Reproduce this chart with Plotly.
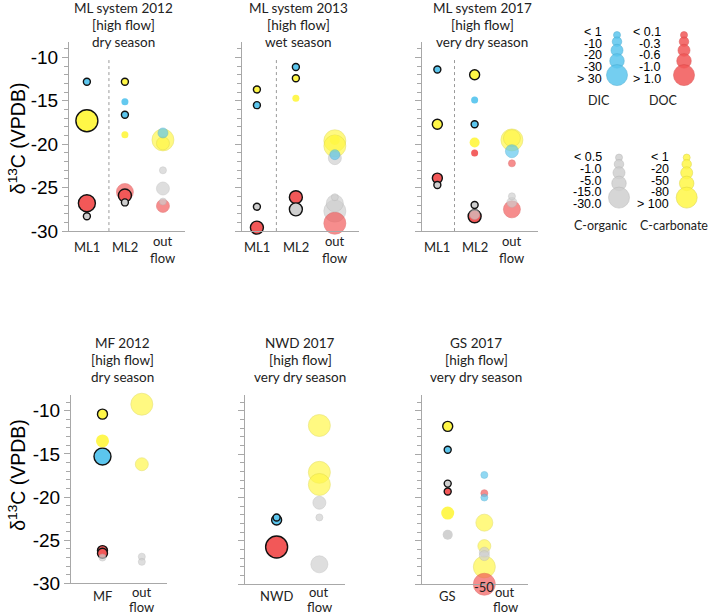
import plotly.graph_objects as go

W, H = 710, 614          # reference canvas (all pixel positions below are in this space)
H_PAGE = 626             # figure height; the photographed page is scaled back to 614

# ---------------- data ----------------
Y_TICKS = [-30, -25, -20, -15, -10]
Y_TICK_TEXT = ["-30", "-25", "-20", "-15", "-10"]

TOP_SITES = ["ML1", "ML2", "out<br>flow"]
P1_TITLE = ["ML system 2012", "[high flow]", "dry season"]
P2_TITLE = ["ML system 2013", "[high flow]", "wet season"]
P3_TITLE = ["ML system 2017", "[high flow]", "very dry season"]
P4_SITES = ["MF", "out<br>flow"]
P5_SITES = ["NWD", "out<br>flow"]
P6_SITES = ["GS", "out<br>flow"]
P4_TITLE = ["MF 2012", "[high flow]", "dry season"]
P5_TITLE = ["NWD 2017", "[high flow]", "very dry season"]
P6_TITLE = ["GS 2017", "[high flow]", "very dry season"]

# site index, carbon pool, d13C, concentration class (1-5), sample type (1 outlined, 0 plain, 2 translucent)
P1_SITE = [0, 0, 0, 0, 1, 1, 1, 1, 1, 1, 1, 2, 2, 2, 2, 2, 2, 2]
P1_KIND = ["DIC", "Ccarb", "DOC", "Corg", "Ccarb", "DIC", "DIC", "Ccarb", "DOC", "DOC", "Corg",
           "Ccarb", "Ccarb", "DIC", "Corg", "Corg", "Corg", "DOC"]
P1_D13C = [-12.8, -17.3, -26.8, -28.3, -12.8, -15.1, -16.6, -18.9, -25.5, -25.9, -26.7,
           -19.5, -19.9, -18.7, -23.0, -25.1, -26.6, -27.1]
P1_CLASS = [1, 5, 4, 1, 1, 1, 1, 1, 4, 3, 1, 5, 3, 2, 1, 3, 1, 3]
P1_TYPE = [1, 1, 1, 1, 1, 0, 1, 0, 2, 1, 1, 2, 2, 2, 2, 2, 2, 2]

P2_SITE = [0, 0, 0, 0, 1, 1, 1, 1, 1, 2, 2, 2, 2, 2, 2, 2, 2, 2]
P2_KIND = ["Ccarb", "DIC", "Corg", "DOC", "DIC", "Ccarb", "Ccarb", "DOC", "Corg",
           "Ccarb", "Ccarb", "Ccarb", "Corg", "DIC", "Corg", "Corg", "Corg", "DOC"]
P2_D13C = [-13.7, -15.5, -27.2, -29.6, -11.1, -12.4, -14.7, -26.1, -27.5,
           -19.6, -20.2, -19.5, -21.6, -21.2, -26.1, -26.8, -27.7, -29.1]
P2_CLASS = [1, 1, 1, 3, 1, 1, 1, 3, 3, 5, 5, 2, 3, 2, 1, 4, 5, 5]
P2_TYPE = [1, 1, 1, 1, 1, 1, 0, 1, 1, 2, 2, 0, 2, 2, 2, 2, 2, 2]

P3_SITE = [0, 0, 0, 0, 1, 1, 1, 1, 1, 1, 1, 1, 2, 2, 2, 2, 2, 2, 2]
P3_KIND = ["DIC", "Ccarb", "DOC", "Corg", "Ccarb", "DIC", "DIC", "Ccarb", "DOC", "Corg", "DOC", "Corg",
           "Ccarb", "Ccarb", "DIC", "DOC", "Corg", "Corg", "DOC"]
P3_D13C = [-11.4, -17.7, -23.9, -24.7, -12.0, -14.9, -17.7, -19.8, -21.0, -27.0, -28.3, -28.1,
           -19.5, -19.3, -20.8, -22.2, -26.0, -26.7, -27.5]
P3_CLASS = [1, 2, 2, 1, 2, 1, 1, 2, 1, 1, 3, 2, 5, 4, 3, 1, 1, 2, 4]
P3_TYPE = [1, 1, 1, 1, 1, 0, 1, 0, 0, 1, 1, 2, 2, 2, 2, 2, 2, 2, 2]

P4_SITE = [0, 0, 0, 0, 0, 0, 1, 1, 1, 1]
P4_KIND = ["Ccarb", "Ccarb", "DIC", "DOC", "DOC", "Corg", "Ccarb", "Ccarb", "Corg", "Corg"]
P4_D13C = [-10.4, -13.5, -15.3, -26.2, -26.5, -27.0, -9.25, -16.2, -26.9, -27.5]
P4_CLASS = [2, 3, 4, 2, 2, 1, 5, 3, 1, 1]
P4_TYPE = [1, 0, 1, 1, 1, 2, 2, 2, 2, 2]

P5_SITE = [0, 0, 0, 1, 1, 1, 1, 1, 1]
P5_KIND = ["DIC", "DIC", "DOC", "Ccarb", "Ccarb", "Ccarb", "Corg", "Corg", "Corg"]
P5_D13C = [-22.6, -22.3, -25.7, -11.7, -17.1, -18.5, -20.6, -22.3, -27.7]
P5_CLASS = [2, 1, 5, 5, 5, 5, 3, 1, 4]
P5_TYPE = [1, 1, 1, 2, 2, 2, 2, 2, 2]

P6_SITE = [0, 0, 0, 0, 0, 0, 1, 1, 1, 1, 1, 1, 1, 1, 1]
P6_KIND = ["Ccarb", "DIC", "Corg", "DOC", "Ccarb", "Corg",
           "DIC", "DOC", "DIC", "Ccarb", "Ccarb", "Corg", "Corg", "Ccarb", "DOC"]
P6_D13C = [-11.8, -14.5, -18.4, -19.3, -21.8, -24.3,
           -17.4, -19.5, -20.0, -22.9, -25.6, -26.3, -26.7, -28.0, -30.0]
P6_CLASS = [2, 1, 1, 1, 3, 2, 1, 1, 1, 4, 3, 2, 2, 5, 5]
P6_TYPE = [1, 1, 1, 1, 0, 0, 2, 2, 2, 2, 2, 2, 2, 2, 2]
P6_OFFSCALE_VALUE = "-50"   # true value of the DOC outflow point drawn at the axis floor
P6_OFFSCALE_INDEX = 14

LEG_DIC = ["< 1", "-10", "-20", "-30", "> 30"]
LEG_DOC = ["< 0.1", "-0.3", "-0.6", "-1.0", "> 1.0"]
LEG_CORG = ["< 0.5", "-1.0", "-5.0", "-15.0", "-30.0"]
LEG_CCARB = ["< 1", "-20", "-50", "-80", "> 100"]
LEG_NAMES = ["DIC", "DOC", "C-organic", "C-carbonate"]

# ---------------- styles ----------------
COL = {"DIC": "#5CC6EE", "DOC": "#F25858", "Corg": "#CFCFCF", "Ccarb": "#FFF747"}
EDGE = {"DIC": "#45a9d0", "DOC": "#d94545", "Corg": "#b5b5b5", "Ccarb": "#dcd43a"}
SIZE_PX = {1: 7, 2: 10, 3: 13, 4: 17, 5: 22}
LEG_SIZE = [7, 9.5, 12, 14.5, 21]
AX_COL = "#a8a8a8"
TXT_FONT = "Lato"
NUM_FONT = "Liberation Sans"

fig = go.Figure()


def fx(p):
    return p / W


def fy(p):
    return 1 - p / H


# panel boxes in pixels: (left, right, top, bottom), x range, separator
PANELS = [
    (69, 185, 41.7, 230.7, [-0.47, 2.58], 0.58),
    (241.7, 359, 41.7, 230.7, [-0.39, 2.62], 0.5),
    (421.7, 538, 41.7, 230.7, [-0.42, 2.7], 0.46),
    (71, 167, 394.5, 582.5, [-0.8, 1.64], None),
    (245, 345, 394.5, 583.3, [-0.74, 1.6], None),
    (421.7, 528.3, 394.5, 583.3, [-0.71, 2.2], None),
]

DATA = [
    (P1_SITE, P1_KIND, P1_D13C, P1_CLASS, P1_TYPE),
    (P2_SITE, P2_KIND, P2_D13C, P2_CLASS, P2_TYPE),
    (P3_SITE, P3_KIND, P3_D13C, P3_CLASS, P3_TYPE),
    (P4_SITE, P4_KIND, P4_D13C, P4_CLASS, P4_TYPE),
    (P5_SITE, P5_KIND, P5_D13C, P5_CLASS, P5_TYPE),
    (P6_SITE, P6_KIND, P6_D13C, P6_CLASS, P6_TYPE),
]

layout = dict(width=W, height=H_PAGE, autosize=False, margin=dict(l=0, r=0, t=0, b=0, pad=0),
              paper_bgcolor="white", plot_bgcolor="rgba(0,0,0,0)", showlegend=False)
annotations = []
shapes = []

for i, ((l, r, t, b, xr, sep), (site, kind, val, cls, typ)) in enumerate(zip(PANELS, DATA), start=1):
    sfx = "" if i == 1 else str(i)
    xa, ya = "x" + sfx, "y" + sfx
    layout["xaxis" + sfx] = dict(domain=[fx(l), fx(r)], range=xr, anchor=ya, showline=True,
                                 linecolor=AX_COL, linewidth=1, ticks="", showticklabels=False,
                                 showgrid=False, zeroline=False, fixedrange=True)
    layout["yaxis" + sfx] = dict(domain=[fy(b), fy(t)], range=[-30, -8.2], anchor=xa, showline=True,
                                 linecolor=AX_COL, linewidth=1, ticks="outside", ticklen=6,
                                 tickcolor=AX_COL, tickvals=Y_TICKS, ticktext=Y_TICK_TEXT,
                                 showticklabels=(i in (1, 4)),
                                 tickfont=dict(family=NUM_FONT, size=19, color="black"),
                                 minor=dict(dtick=1, tick0=-30, ticks="outside", ticklen=4,
                                            tickcolor=AX_COL),
                                 showgrid=False, zeroline=False, fixedrange=True)
    order = sorted(range(len(val)), key=lambda k: -cls[k])
    fig.add_trace(go.Scatter(
        x=[site[k] for k in order], y=[val[k] for k in order], mode="markers",
        xaxis=xa, yaxis=ya, cliponaxis=False, hoverinfo="skip",
        marker=dict(
            size=[SIZE_PX[cls[k]] for k in order],
            color=[COL[kind[k]] for k in order],
            opacity=[1.0 if typ[k] == 1 else (0.95 if typ[k] == 0 else 0.68) for k in order],
            line=dict(color=["#111111" if typ[k] == 1 else EDGE[kind[k]] for k in order],
                      width=[1.4 if typ[k] == 1 else (0 if typ[k] == 0 else 0.6) for k in order]),
        )))
    if sep is not None:
        shapes.append(dict(type="line", xref=xa, yref=ya, x0=sep, x1=sep, y0=-30, y1=-10,
                           line=dict(color="#9a9a9a", width=1, dash="dot")))

# category labels (one annotation per text line)
LBL = dict(family=TXT_FONT, size=13, color="#222")
CAT_Y_TOP = (246.7, 240.7, 257.3)
CAT_Y_BOT = (595, 590.7, 606.5)
for i in (1, 2, 3, 4, 5, 6):
    sfx = "" if i == 1 else str(i)
    sites = TOP_SITES if i <= 3 else (P4_SITES, P5_SITES, P6_SITES)[i - 4]
    ys = CAT_Y_TOP if i <= 3 else CAT_Y_BOT
    for k, s in enumerate(sites):
        parts = s.split("<br>")
        shift = 21 if (i == 6 and k == len(sites) - 1) else 0
        yy = [ys[0]] if len(parts) == 1 else [ys[1], ys[2]]
        for part, y0 in zip(parts, yy):
            annotations.append(dict(text=part, xref="x" + sfx, x=k, yref="paper", y=fy(y0),
                                    xshift=shift, yanchor="middle", xanchor="center",
                                    showarrow=False, font=LBL))

# off-scale value label
annotations.append(dict(text=P6_OFFSCALE_VALUE, xref="x6", yref="y6",
                        x=P6_SITE[P6_OFFSCALE_INDEX], y=P6_D13C[P6_OFFSCALE_INDEX],
                        yshift=-3, showarrow=False, xanchor="center", yanchor="middle",
                        font=LBL))

# titles (one annotation per line)
TITLE_POS = [(123.3, 8), (298.3, 8), (482, 8), (122.7, 342), (300, 342), (476, 342)]
for (cx, cy), tt in zip(TITLE_POS, (P1_TITLE, P2_TITLE, P3_TITLE, P4_TITLE, P5_TITLE, P6_TITLE)):
    for k, line in enumerate(tt):
        annotations.append(dict(text=line, xref="paper", yref="paper", x=fx(cx), y=fy(cy + 17.2 * k),
                                xanchor="center", yanchor="middle", showarrow=False,
                                font=dict(family=TXT_FONT, size=13.5, color="#222")))

# y axis titles
for cy in (138, 474):
    annotations.append(dict(text="δ<sup>13</sup>C (VPDB)", xref="paper", yref="paper",
                            x=fx(17), y=fy(cy), textangle=-90, showarrow=False,
                            xanchor="center", yanchor="middle",
                            font=dict(family=NUM_FONT, size=19.5, color="black")))

# ---------------- size legend ----------------
layout["xaxis7"] = dict(domain=[0, 1], range=[0, W], visible=False, fixedrange=True, anchor="y7")
layout["yaxis7"] = dict(domain=[0, 1], range=[H, 0], visible=False, fixedrange=True, anchor="x7")

LEG_GROUPS = [
    # labels, colour key, label right edge, bubble x, first label y, first bubble y, name x, name y
    (LEG_DIC, "DIC", 604, 617, 31.7, 35, 599, 100),
    (LEG_DOC, "DOC", 662.5, 684, 31.7, 35, 663, 100),
    (LEG_CORG, "Corg", 604, 619, 156.7, 157.3, 600, 225),
    (LEG_CCARB, "Ccarb", 670.7, 686.7, 156.7, 157.3, 674, 225),
]
for (labels, key, lx, bx, ly0, by0, nx, ny), name in zip(LEG_GROUPS, LEG_NAMES):
    ys = [by0]
    for k in range(1, len(LEG_SIZE)):
        ys.append(ys[-1] + 0.8 * (LEG_SIZE[k - 1] + LEG_SIZE[k]) / 2)
    fig.add_trace(go.Scatter(x=[bx] * len(ys), y=ys, mode="markers", xaxis="x7", yaxis="y7",
                             cliponaxis=False, hoverinfo="skip",
                             marker=dict(size=LEG_SIZE, color=COL[key], opacity=0.85,
                                         line=dict(color=EDGE[key], width=0.6))))
    for k, lab in enumerate(labels):
        annotations.append(dict(text=lab, xref="paper", yref="paper", x=fx(lx), y=fy(ly0 + 11.8 * k),
                                xanchor="right", yanchor="middle", showarrow=False,
                                font=dict(family=NUM_FONT, size=12.5, color="black")))
    annotations.append(dict(text=name, xref="paper", yref="paper", x=fx(nx), y=fy(ny),
                            xanchor="center", yanchor="middle", showarrow=False,
                            font=dict(family=TXT_FONT, size=12.5, color="#222")))

layout["annotations"] = annotations
layout["shapes"] = shapes
fig.update_layout(**layout)
fig.write_html("out.html",
               config={"displayModeBar": False, "responsive": False},
               post_script="document.body.style.margin='0';"
                           "document.documentElement.style.overflow='hidden';"
                           "document.body.style.overflow='hidden';")
